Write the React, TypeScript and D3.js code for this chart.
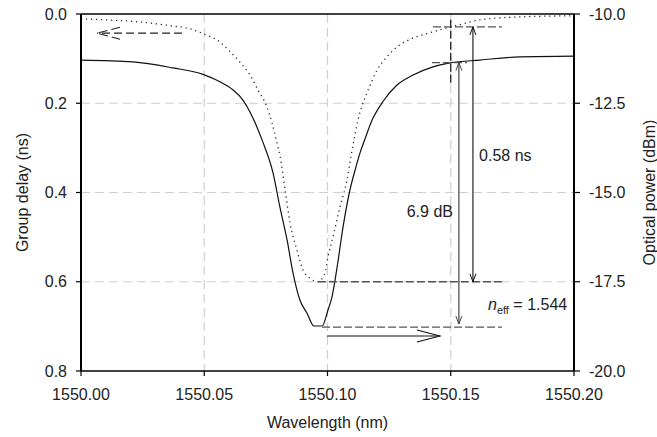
import React from "react";
import * as d3 from "d3";

// Group delay (dotted, left axis, ns)
const delayWavelength = [
  1550.0, 1550.01, 1550.0241, 1550.036, 1550.044, 1550.0495, 1550.0564, 1550.0604, 1550.0645,
  1550.0686, 1550.0718, 1550.0751, 1550.0775, 1550.0795, 1550.0808, 1550.0828, 1550.0848,
  1550.0876, 1550.0901, 1550.0929, 1550.0961, 1550.099, 1550.1002, 1550.1022, 1550.1051,
  1550.1079, 1550.1095, 1550.1108, 1550.1124, 1550.114, 1550.116, 1550.1201, 1550.1241,
  1550.1294, 1550.1347, 1550.1428, 1550.1485, 1550.155, 1550.1619, 1550.1753, 1550.2,
];
const delayNs = [
  0.011, 0.013, 0.018, 0.026, 0.033, 0.044, 0.063, 0.084, 0.108,
  0.137, 0.17, 0.204, 0.244, 0.289, 0.32, 0.394, 0.468,
  0.529, 0.574, 0.592, 0.6, 0.58, 0.545, 0.5, 0.432,
  0.372, 0.32, 0.28, 0.237, 0.206, 0.177, 0.126, 0.096,
  0.069, 0.054, 0.04, 0.031, 0.022, 0.013, 0.007, 0.004,
];

// Optical power (solid, right axis, dBm)
const powerWavelength = [
  1550.0, 1550.0211, 1550.0373, 1550.0495, 1550.0564, 1550.0617, 1550.0657, 1550.0686,
  1550.0714, 1550.0738, 1550.0779, 1550.0807, 1550.0836, 1550.086, 1550.0888, 1550.0917,
  1550.0945, 1550.0978, 1550.1002, 1550.1018, 1550.1039, 1550.1063, 1550.1091, 1550.1112,
  1550.1132, 1550.1148, 1550.1181, 1550.1225, 1550.1282, 1550.1347, 1550.1428, 1550.1497,
  1550.1619, 1550.1781, 1550.2,
];
const powerDbm = [
  -11.29, -11.34, -11.51, -11.69, -11.9, -12.13, -12.41, -12.75,
  -13.17, -13.59, -14.45, -15.41, -16.33, -17.25, -18.01, -18.38,
  -18.74, -18.74, -18.29, -17.93, -17.09, -15.97, -14.93, -14.37,
  -13.89, -13.58, -12.97, -12.45, -11.99, -11.71, -11.48, -11.37,
  -11.29, -11.2, -11.18,
];

const xTicks = [1550.0, 1550.05, 1550.1, 1550.15, 1550.2];
const xTickLabels = ["1550.00", "1550.05", "1550.10", "1550.15", "1550.20"];
const delayTicks = [0, 0.2, 0.4, 0.6, 0.8];
const delayTickLabels = ["0.0", "0.2", "0.4", "0.6", "0.8"];
const powerTicks = [-10, -12.5, -15, -17.5, -20];
const powerTickLabels = ["-10.0", "-12.5", "-15.0", "-17.5", "-20.0"];
const gridX = [1550.05, 1550.1, 1550.15];
const gridY = [0.2, 0.4, 0.6];

// annotation values
const delayTop = 0.029;
const delayMin = 0.6;
const powerTop = -11.36;
const powerMin = -18.77;
const delaySpanText = "0.58 ns";
const powerSpanText = "6.9 dB";
const neffText = " = 1.544";

const W = 657;
const H = 437;
const L = 81, R = 574, T = 14, B = 371;

export default function App() {
  const x = d3.scaleLinear().domain([1550, 1550.2]).range([L, R]);
  const yL = d3.scaleLinear().domain([0, 0.8]).range([T, B]);
  const yR = d3.scaleLinear().domain([-10, -20]).range([T, B]);

  const delayPts = delayWavelength.map((w, i) => [w, delayNs[i]] as [number, number]);
  const powerPts = powerWavelength.map((w, i) => [w, powerDbm[i]] as [number, number]);

  const delayLine = d3.line<[number, number]>().x(d => x(d[0])).y(d => yL(d[1])).curve(d3.curveMonotoneX);
  const powerLine = d3.line<[number, number]>().x(d => x(d[0])).y(d => yR(d[1])).curve(d3.curveMonotoneX);

  const font = "'Liberation Sans', Arial, Helvetica, sans-serif";
  const txt = "#222";
  const dashCol = "#555";

  // horizontal arrows
  const la = { y: yL(0.043), x1: x(1550.041), x2: x(1550.0065) };
  const ra = { y: yR(-19.02), x1: x(1550.0998), x2: x(1550.1456) };
  // vertical span arrows
  const dxA = x(1550.159);
  const pxA = x(1550.1533);
  const dTopY = yL(delayTop), dMinY = yL(delayMin);
  const pTopY = yR(powerTop), pMinY = yR(powerMin);

  const vHead = (cx: number, cy: number, dir: number, col: string) => (
    <path d={`M${cx - 3},${cy + dir * 8} L${cx},${cy} L${cx + 3},${cy + dir * 8}`} fill="none" stroke={col} strokeWidth={1} />
  );

  return (
    <svg width={W} height={H} style={{ position: "absolute", left: 0, top: 0, background: "#fff" }} fontFamily={font}>
      {/* grid */}
      {gridX.map(g => (
        <line key={"gx" + g} x1={x(g)} x2={x(g)} y1={T} y2={B} stroke="#cfcfcf" strokeWidth={1.2} strokeDasharray="9,5" />
      ))}
      {gridY.map(g => (
        <line key={"gy" + g} x1={L} x2={R} y1={yL(g)} y2={yL(g)} stroke="#cfcfcf" strokeWidth={1.2} strokeDasharray="9,5" />
      ))}

      {/* curves */}
      <path d={delayLine(delayPts) || ""} fill="none" stroke="#222" strokeWidth={1.3} strokeDasharray="1.2,3.8" />
      <path d={powerLine(powerPts) || ""} fill="none" stroke="#111" strokeWidth={1.2} />

      {/* level dashed lines */}
      <line x1={x(1550.0961)} x2={x(1550.1708)} y1={dMinY} y2={dMinY} stroke={dashCol} strokeWidth={1.3} strokeDasharray="8,3" />
      <line x1={x(1550.0978)} x2={x(1550.1708)} y1={pMinY} y2={pMinY} stroke={dashCol} strokeWidth={1.3} strokeDasharray="8,3" />
      <line x1={x(1550.1428)} x2={x(1550.1708)} y1={dTopY} y2={dTopY} stroke={dashCol} strokeWidth={1.3} strokeDasharray="8,3" />
      <line x1={x(1550.1424)} x2={x(1550.1566)} y1={pTopY} y2={pTopY} stroke={dashCol} strokeWidth={1.3} strokeDasharray="8,3" />
      <line x1={x(1550.15)} x2={x(1550.15)} y1={yL(0.013)} y2={yL(0.155)} stroke="#111" strokeWidth={1.2} strokeDasharray="8,3" />

      {/* span arrows */}
      <line x1={dxA} x2={dxA} y1={dTopY} y2={dMinY} stroke="#111" strokeWidth={1.1} />
      {vHead(dxA, dTopY, 1, "#111")}
      {vHead(dxA, dMinY, -1, "#111")}
      <line x1={pxA} x2={pxA} y1={pTopY} y2={pMinY - 3} stroke="#444" strokeWidth={1.2} />
      {vHead(pxA, pTopY, 1, "#444")}
      {vHead(pxA, pMinY - 3, -1, "#444")}

      {/* left dashed arrow */}
      <line x1={la.x1} x2={la.x2} y1={la.y} y2={la.y} stroke="#222" strokeWidth={1.2} strokeDasharray="8,4" />
      <path d={`M${la.x2 + 23},${la.y - 6} L${la.x2},${la.y} L${la.x2 + 23},${la.y + 6}`} fill="none" stroke="#222" strokeWidth={1.1} strokeDasharray="9,4" />
      {/* right solid arrow */}
      <line x1={ra.x1} x2={ra.x2} y1={ra.y} y2={ra.y} stroke="#111" strokeWidth={1.2} />
      <path d={`M${ra.x2 - 23},${ra.y - 6} L${ra.x2},${ra.y} L${ra.x2 - 23},${ra.y + 6}`} fill="none" stroke="#111" strokeWidth={1.1} />

      {/* annotation texts */}
      <text x={x(1550.1615)} y={yL(0.3294)} fontSize={16} fill={txt}>{delaySpanText}</text>
      <text x={x(1550.1509)} y={yL(0.4549)} fontSize={16} fill={txt} textAnchor="end">{powerSpanText}</text>
      <text x={x(1550.1651)} y={yL(0.6633)} fontSize={16} fill={txt}>
        <tspan fontStyle="italic">n</tspan>
        <tspan fontSize={11} dy={4}>eff</tspan>
        <tspan dy={-4} style={{ whiteSpace: "pre" }}>{neffText}</tspan>
      </text>

      {/* frame */}
      <line x1={L} x2={R} y1={T} y2={T} stroke="#000" strokeWidth={1.5} />
      <line x1={L} x2={R} y1={B} y2={B} stroke="#000" strokeWidth={1.5} />
      <line x1={L} x2={L} y1={T} y2={B} stroke="#000" strokeWidth={2} />
      <line x1={R} x2={R} y1={T} y2={B} stroke="#000" strokeWidth={2} />

      {/* x axis */}
      {xTicks.map((t, i) => (
        <g key={"xt" + i}>
          <line x1={x(t)} x2={x(t)} y1={B} y2={B + 5} stroke="#000" strokeWidth={1.2} />
          <text x={x(t)} y={400} fontSize={16} fill={txt} textAnchor="middle">{xTickLabels[i]}</text>
        </g>
      ))}
      {/* left axis */}
      {delayTicks.map((t, i) => (
        <g key={"yl" + i}>
          <line x1={L - 5} x2={L} y1={yL(t)} y2={yL(t)} stroke="#000" strokeWidth={1.2} />
          <text x={67} y={yL(t)} dy="0.35em" fontSize={16} fill={txt} textAnchor="end">{delayTickLabels[i]}</text>
        </g>
      ))}
      {/* right axis */}
      {powerTicks.map((t, i) => (
        <g key={"yr" + i}>
          <line x1={R} x2={R + 6} y1={yR(t)} y2={yR(t)} stroke="#000" strokeWidth={1.2} />
          <text x={589} y={yR(t)} dy="0.35em" fontSize={16} fill={txt}>{powerTickLabels[i]}</text>
        </g>
      ))}

      {/* axis titles */}
      <text x={(L + R) / 2} y={428} fontSize={16} fill={txt} textAnchor="middle">Wavelength (nm)</text>
      <text transform={`translate(28,${(T + B) / 2}) rotate(-90)`} fontSize={16} fill={txt} textAnchor="middle">Group delay (ns)</text>
      <text transform={`translate(655,${(T + B) / 2}) rotate(-90)`} fontSize={16} fill={txt} textAnchor="middle">Optical power (dBm)</text>
    </svg>
  );
}
